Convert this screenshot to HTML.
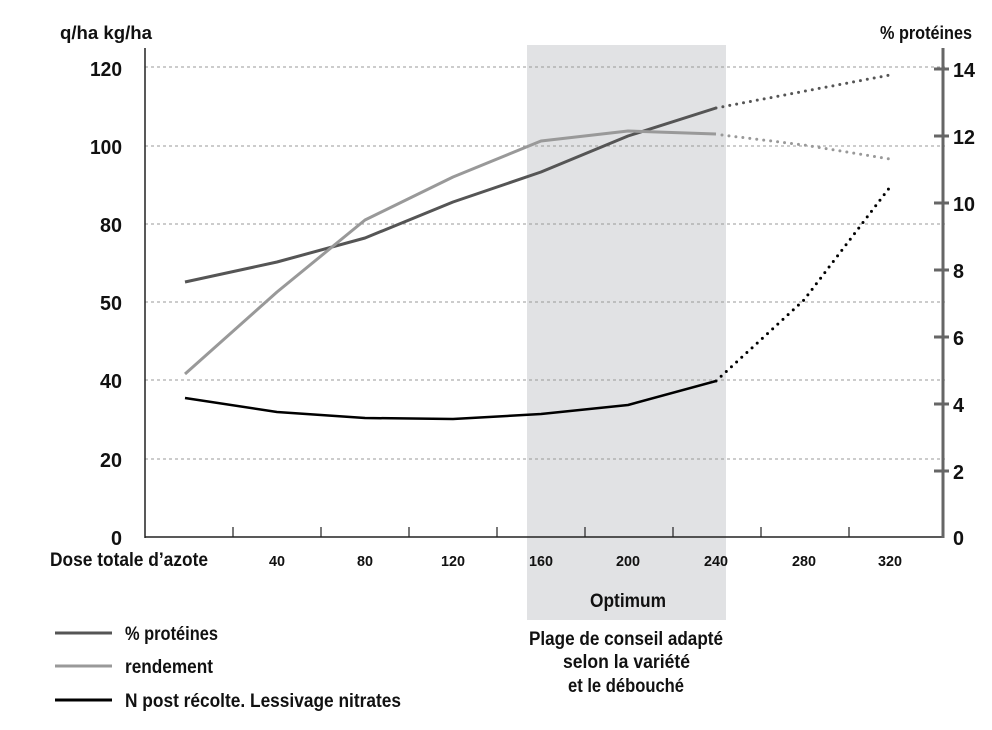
<!DOCTYPE html>
<html><head><meta charset="utf-8"><style>
html,body{margin:0;padding:0;background:#fff;}
svg{display:block;}
text{font-family:"Liberation Sans",sans-serif;fill:#111;font-weight:bold;}
</style></head><body>
<svg width="992" height="730" viewBox="0 0 992 730">
<rect x="527" y="45" width="199" height="575" fill="#e1e2e4"/>
<g stroke="#999" stroke-width="1" stroke-dasharray="3,3">
<line x1="145" y1="67" x2="945" y2="67"/>
<line x1="145" y1="146" x2="945" y2="146"/>
<line x1="145" y1="224" x2="945" y2="224"/>
<line x1="145" y1="302" x2="945" y2="302"/>
<line x1="145" y1="380" x2="945" y2="380"/>
<line x1="145" y1="459" x2="945" y2="459"/>
</g>
<line x1="145" y1="48" x2="145" y2="538" stroke="#222" stroke-width="1.5"/>
<line x1="145" y1="537" x2="943" y2="537" stroke="#222" stroke-width="1.5"/>
<g stroke="#222" stroke-width="1.2">
<line x1="233" y1="527" x2="233" y2="537"/><line x1="321" y1="527" x2="321" y2="537"/>
<line x1="409" y1="527" x2="409" y2="537"/><line x1="497" y1="527" x2="497" y2="537"/>
<line x1="585" y1="527" x2="585" y2="537"/><line x1="673" y1="527" x2="673" y2="537"/>
<line x1="761" y1="527" x2="761" y2="537"/><line x1="849" y1="527" x2="849" y2="537"/>
</g>
<line x1="943" y1="48" x2="943" y2="538" stroke="#666" stroke-width="3"/>
<g stroke="#666" stroke-width="3">
<line x1="934" y1="69" x2="949" y2="69"/><line x1="934" y1="136" x2="949" y2="136"/>
<line x1="934" y1="203" x2="949" y2="203"/><line x1="934" y1="270" x2="949" y2="270"/>
<line x1="934" y1="337" x2="949" y2="337"/><line x1="934" y1="404" x2="949" y2="404"/>
<line x1="934" y1="471" x2="949" y2="471"/>
</g>
<g font-size="20" text-anchor="end" lengthAdjust="spacingAndGlyphs">
<text x="122" y="76" textLength="32" lengthAdjust="spacingAndGlyphs">120</text>
<text x="122" y="154" textLength="32" lengthAdjust="spacingAndGlyphs">100</text>
<text x="122" y="232" textLength="22" lengthAdjust="spacingAndGlyphs">80</text>
<text x="122" y="310" textLength="22" lengthAdjust="spacingAndGlyphs">50</text>
<text x="122" y="388" textLength="22" lengthAdjust="spacingAndGlyphs">40</text>
<text x="122" y="467" textLength="22" lengthAdjust="spacingAndGlyphs">20</text>
<text x="122" y="545" textLength="11" lengthAdjust="spacingAndGlyphs">0</text>
</g>
<g font-size="20">
<text x="953" y="77" textLength="22" lengthAdjust="spacingAndGlyphs">14</text>
<text x="953" y="144" textLength="22" lengthAdjust="spacingAndGlyphs">12</text>
<text x="953" y="211" textLength="22" lengthAdjust="spacingAndGlyphs">10</text>
<text x="953" y="278" textLength="11" lengthAdjust="spacingAndGlyphs">8</text>
<text x="953" y="345" textLength="11" lengthAdjust="spacingAndGlyphs">6</text>
<text x="953" y="412" textLength="11" lengthAdjust="spacingAndGlyphs">4</text>
<text x="953" y="479" textLength="11" lengthAdjust="spacingAndGlyphs">2</text>
<text x="953" y="545" textLength="11" lengthAdjust="spacingAndGlyphs">0</text>
</g>
<text x="60" y="39" font-size="18" textLength="92" lengthAdjust="spacingAndGlyphs">q/ha kg/ha</text>
<text x="880" y="39" font-size="18" textLength="92" lengthAdjust="spacingAndGlyphs">% protéines</text>
<g font-size="15" text-anchor="middle" font-weight="normal">
<text x="277" y="566" textLength="16" lengthAdjust="spacingAndGlyphs">40</text>
<text x="365" y="566" textLength="16" lengthAdjust="spacingAndGlyphs">80</text>
<text x="453" y="566" textLength="24" lengthAdjust="spacingAndGlyphs">120</text>
<text x="541" y="566" textLength="24" lengthAdjust="spacingAndGlyphs">160</text>
<text x="628" y="566" textLength="24" lengthAdjust="spacingAndGlyphs">200</text>
<text x="716" y="566" textLength="24" lengthAdjust="spacingAndGlyphs">240</text>
<text x="804" y="566" textLength="24" lengthAdjust="spacingAndGlyphs">280</text>
<text x="890" y="566" textLength="24" lengthAdjust="spacingAndGlyphs">320</text>
</g>
<text x="50" y="566" font-size="19" textLength="158" lengthAdjust="spacingAndGlyphs">Dose totale d’azote</text>
<g fill="none" stroke-linejoin="round">
<polyline points="185,282 277,262 365,238 453,202 541,172 628,136 716,108" stroke="#555" stroke-width="3"/>
<polyline points="716,108 890,75" stroke="#555" stroke-width="3" stroke-dasharray="0,7" stroke-linecap="round"/>
<polyline points="185,374 277,292 365,220 453,177 541,141 628,131 716,134" stroke="#999" stroke-width="3"/>
<polyline points="722,135 804,145 890,159" stroke="#999" stroke-width="3" stroke-dasharray="0,7" stroke-linecap="round"/>
<polyline points="185,398 277,412 365,418 453,419 541,414 628,405 716,381" stroke="#000" stroke-width="2.5"/>
<polyline points="716,381 804,300 890,187" stroke="#000" stroke-width="3" stroke-dasharray="0,7" stroke-linecap="round"/>
</g>
<text x="590" y="607" font-size="19" textLength="76" lengthAdjust="spacingAndGlyphs">Optimum</text>
<g font-size="19">
<text x="529" y="645" textLength="194" lengthAdjust="spacingAndGlyphs">Plage de conseil adapté</text>
<text x="563" y="668" textLength="127" lengthAdjust="spacingAndGlyphs">selon la variété</text>
<text x="568" y="692" textLength="116" lengthAdjust="spacingAndGlyphs">et le débouché</text>
</g>
<line x1="55" y1="633" x2="112" y2="633" stroke="#555" stroke-width="3"/>
<line x1="55" y1="666" x2="112" y2="666" stroke="#999" stroke-width="3"/>
<line x1="55" y1="700" x2="112" y2="700" stroke="#000" stroke-width="3"/>
<g font-size="19">
<text x="125" y="640" textLength="93" lengthAdjust="spacingAndGlyphs">% protéines</text>
<text x="125" y="673" textLength="88" lengthAdjust="spacingAndGlyphs">rendement</text>
<text x="125" y="707" textLength="276" lengthAdjust="spacingAndGlyphs">N post récolte. Lessivage nitrates</text>
</g>
</svg>
</body></html>
